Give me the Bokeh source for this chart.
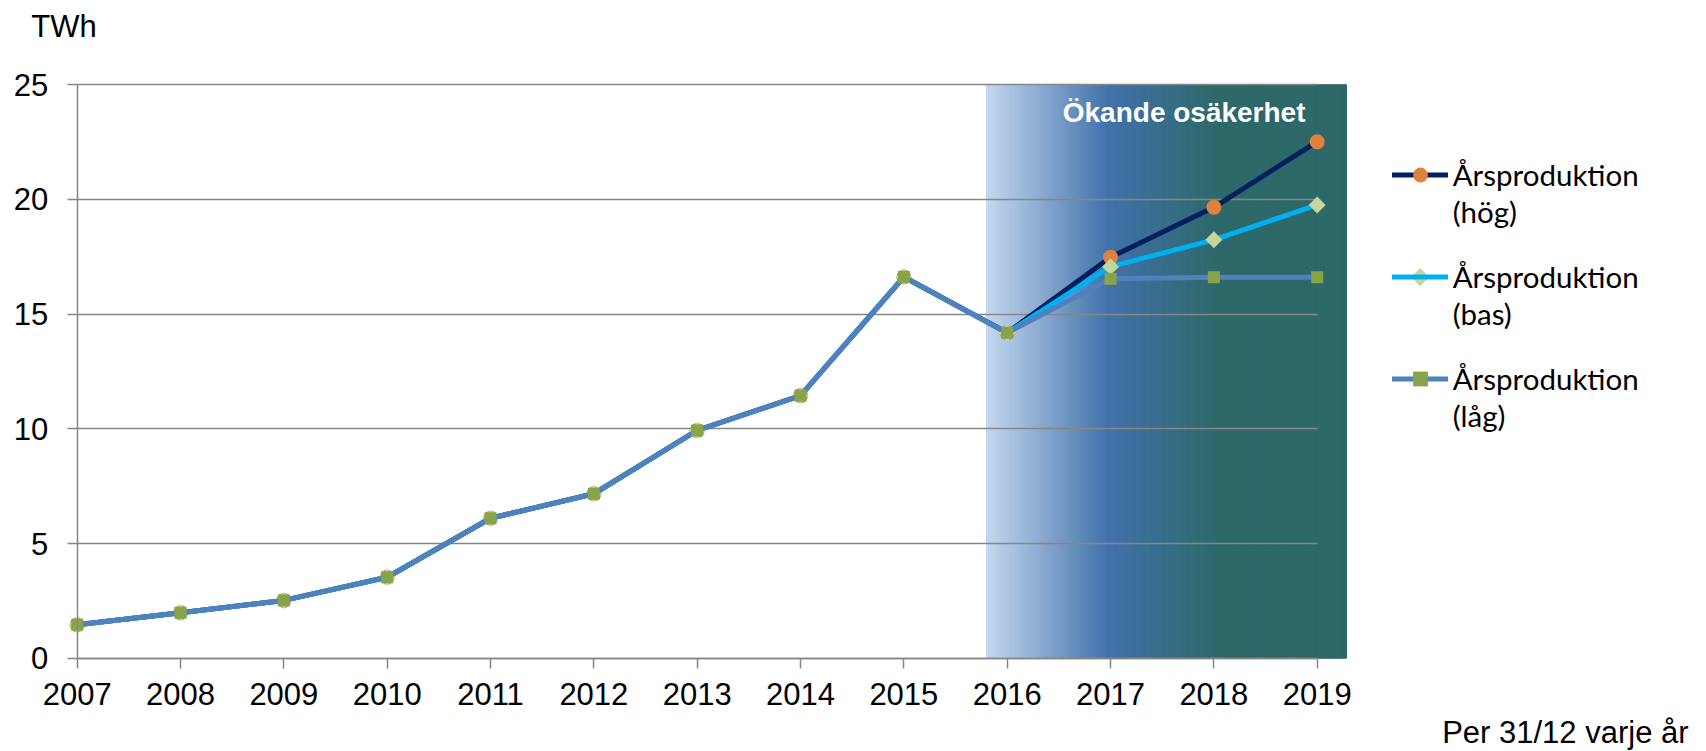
import numpy as np
from bokeh.plotting import figure
from bokeh.models import Range1d, FixedTicker, Legend, LegendItem, Label
from bokeh.embed import file_html
from bokeh.resources import INLINE

# ---- data ----
years = [2007, 2008, 2009, 2010, 2011, 2012, 2013, 2014, 2015, 2016, 2017, 2018, 2019]
hog = [1.46, 1.98, 2.52, 3.53, 6.10, 7.17, 9.93, 11.45, 16.62, 14.19, 17.48, 19.66, 22.52]
bas = [1.46, 1.98, 2.52, 3.53, 6.10, 7.17, 9.93, 11.45, 16.62, 14.19, 17.07, 18.24, 19.76]
lag = [1.46, 1.98, 2.52, 3.53, 6.10, 7.17, 9.93, 11.45, 16.62, 14.19, 16.54, 16.61, 16.61]
y_ticks = [0, 5, 10, 15, 20, 25]
series_label = "Årsproduktion"
scenario_labels = ["(hög)", "(bas)", "(låg)"]
shade_label = "Ökande osäkerhet"
unit_label = "TWh"
note_label = "Per  31/12 varje år"

# ---- layout / style ----
W, H = 1706, 751
PX_X = 103.333          # pixels per year
PX_Y = 22.936           # pixels per TWh
X0_PIX, Y0_PIX = 76.7, 657.7   # where (2007, 0) sits on the canvas
x_start = years[0] - X0_PIX / PX_X
y_start = -(H - Y0_PIX) / PX_Y

FONT = "Liberation Sans"
GRID = "#868686"
shade_x0, shade_x1 = 2015.80, 2019.28
stops = [(0.0, (197, 216, 239)), (0.34, (66, 114, 171)), (0.64, (46, 105, 106)), (1.0, (46, 105, 105))]

p = figure(width=W, height=H,
           x_range=Range1d(x_start, x_start + W / PX_X),
           y_range=Range1d(y_start, y_start + H / PX_Y),
           output_backend="svg", toolbar_location=None, tools="",
           min_border=0, min_border_left=0, min_border_right=0,
           min_border_top=0, min_border_bottom=0)
p.outline_line_color = None
p.background_fill_color = "white"
p.border_fill_color = "white"
p.xgrid.visible = False

# gradient band
n = 160
edges = np.linspace(shade_x0, shade_x1, n + 1)
mids = (edges[:-1] + edges[1:]) / 2
fr = (mids - shade_x0) / (shade_x1 - shade_x0)
cols = []
for f in fr:
    for (f0, c0), (f1, c1) in zip(stops[:-1], stops[1:]):
        if f0 <= f <= f1:
            t = (f - f0) / (f1 - f0)
            c = tuple(int(round(a + (b - a) * t)) for a, b in zip(c0, c1))
            cols.append("#%02x%02x%02x" % c)
            break
p.quad(left=edges[:-1], right=edges[1:] + 0.004, bottom=0, top=y_ticks[-1],
       fill_color=cols, line_color=cols, line_width=1, level="image")

# y grid
p.ygrid.ticker = FixedTicker(ticks=y_ticks)
p.ygrid.grid_line_color = GRID
p.ygrid.grid_line_width = 1.5
p.ygrid.cross_bounds = (years[0], years[-1])

# axes (fixed at the data origin)
p.xaxis.ticker = FixedTicker(ticks=years)
p.xaxis.bounds = (years[0], years[-1])
p.xaxis.fixed_location = 0
p.yaxis.ticker = FixedTicker(ticks=y_ticks)
p.yaxis.bounds = (y_ticks[0], y_ticks[-1])
p.yaxis.fixed_location = years[0]
for ax in (p.xaxis, p.yaxis):
    ax.axis_line_color = GRID
    ax.axis_line_width = 1.5
    ax.major_tick_line_color = GRID
    ax.major_tick_line_width = 1.5
    ax.major_tick_in = 0
    ax.major_tick_out = 10
    ax.minor_tick_line_color = None
    ax.major_label_text_font = FONT
    ax.major_label_text_font_size = "31px"
    ax.major_label_text_color = "black"
p.xaxis.major_label_standoff = 15
p.yaxis.major_label_standoff = 19

# series
specs = [
    (hog, "#002060", dict(marker="circle", size=15, angle=0.0), "#E0823D"),
    (bas, "#00B0F0", dict(marker="square", size=12, angle=np.pi / 4), "#C3D69B"),
    (lag, "#4F81BD", dict(marker="square", size=12, angle=0.0), "#87A44A"),
]
rends = []
for vals, lc, mk, mc in specs:
    l = p.line(years, vals, line_color=lc, line_width=5, line_join="round", line_cap="round")
    s = p.scatter(years, vals, fill_color=mc, line_color=None, **mk)
    rends.append([l, s])

# legends: one block per scenario (bas key uses its line; rotated-square key drawn on top)
ROW = 37
BLOCK = 102.3
LEG_X, FIRST_CENTER = 1391.7, 174.3
dummy = p.line(x=[], y=[], line_alpha=0)
for i, (r, lab) in enumerate(zip(rends, scenario_labels)):
    top = FIRST_CENTER + i * BLOCK - ROW / 2
    items = [LegendItem(label=series_label, renderers=r if i != 1 else [r[0]]),
             LegendItem(label=lab, renderers=[dummy])]
    lg = Legend(items=items, location=(LEG_X, H - (top + 2 * ROW)), orientation="vertical",
                glyph_width=56, glyph_height=ROW, label_standoff=5, spacing=0,
                padding=0, margin=0, border_line_color=None, background_fill_alpha=0,
                label_text_font="Lato", label_text_font_size="29.5px", label_text_color="black",
                label_height=ROW)
    p.add_layout(lg)
key_x = x_start + (LEG_X + 28) / PX_X
key_y = y_start + (H - (FIRST_CENTER + BLOCK)) / PX_Y
p.scatter([key_x], [key_y], marker="square", size=13, angle=np.pi / 4,
          fill_color="#C3D69B", line_color=None, level="overlay")

p.add_layout(Label(x=shade_x1 - 0.393, y=y_ticks[-1], y_offset=-27.4, text=shade_label,
                   text_align="right", text_baseline="middle", text_color="white",
                   text_font=FONT, text_font_size="28px", text_font_style="bold"))
p.add_layout(Label(x=years[0], x_offset=-46, y=y_ticks[-1], y_offset=58.5, text=unit_label,
                   text_align="left", text_baseline="middle", text_color="black",
                   text_font=FONT, text_font_size="31px"))
p.add_layout(Label(x=years[-1], x_offset=380, y=0, y_offset=-74, text=note_label,
                   text_align="right", text_baseline="middle", text_color="black",
                   text_font=FONT, text_font_size="31px"))

open("out.html", "w").write(file_html(p, INLINE))
